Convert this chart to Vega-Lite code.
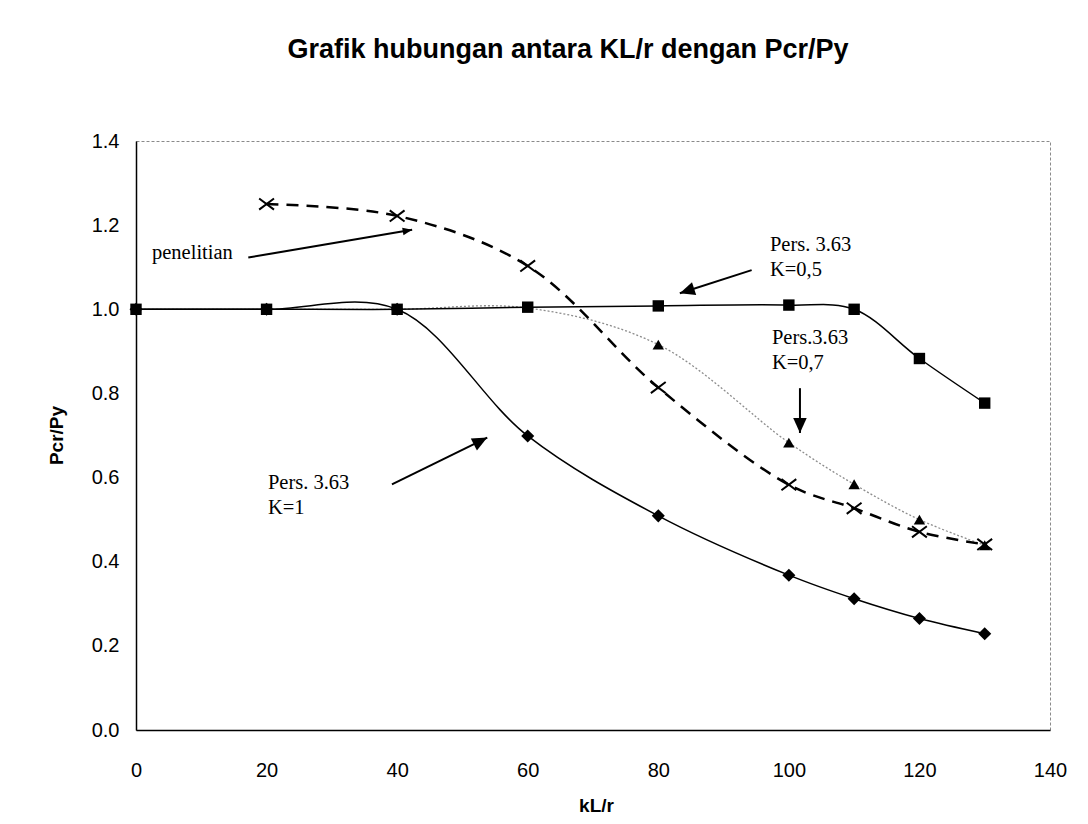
{
  "$schema": "https://vega.github.io/schema/vega-lite/v6.json",
  "autosize": {"type": "none"},
  "width": 914,
  "height": 589,
  "padding": {"left": 136, "top": 141, "right": 38, "bottom": 94},
  "background": "white",
  "title": {
    "text": "Grafik hubungan antara KL/r dengan Pcr/Py",
    "anchor": "middle",
    "frame": "group",
    "dx": -25,
    "offset": 46,
    "baseline": "alphabetic",
    "font": "Liberation Sans",
    "fontSize": 27,
    "fontWeight": "bold",
    "color": "black"
  },
  "config": {
    "view": {"stroke": "#8a8a8a", "strokeDash": [3, 2], "strokeWidth": 1},
    "axis": {
      "labelFont": "Liberation Sans",
      "labelFontSize": 20,
      "labelColor": "black",
      "titleFont": "Liberation Sans",
      "titleFontSize": 19,
      "titleFontWeight": "bold",
      "titleColor": "black",
      "domainColor": "black",
      "domainWidth": 1.5,
      "ticks": false,
      "grid": false,
      "labelFlush": false,
      "labelOverlap": false,
      "labelBound": false
    }
  },
  "datasets": {
    "curves": [
      {"series": "K=0,5", "kLr": 0, "ratio": 1.0},
      {"series": "K=0,5", "kLr": 20, "ratio": 1.0},
      {"series": "K=0,5", "kLr": 40, "ratio": 1.0},
      {"series": "K=0,5", "kLr": 60, "ratio": 1.005},
      {"series": "K=0,5", "kLr": 80, "ratio": 1.008},
      {"series": "K=0,5", "kLr": 100, "ratio": 1.01},
      {"series": "K=0,5", "kLr": 110, "ratio": 1.0},
      {"series": "K=0,5", "kLr": 120, "ratio": 0.883},
      {"series": "K=0,5", "kLr": 130, "ratio": 0.777},
      {"series": "K=1", "kLr": 0, "ratio": 1.0},
      {"series": "K=1", "kLr": 20, "ratio": 1.0},
      {"series": "K=1", "kLr": 40, "ratio": 1.0},
      {"series": "K=1", "kLr": 60, "ratio": 0.699},
      {"series": "K=1", "kLr": 80, "ratio": 0.509},
      {"series": "K=1", "kLr": 100, "ratio": 0.368},
      {"series": "K=1", "kLr": 110, "ratio": 0.312},
      {"series": "K=1", "kLr": 120, "ratio": 0.265},
      {"series": "K=1", "kLr": 130, "ratio": 0.229},
      {"series": "K=0,7", "kLr": 0, "ratio": 1.0},
      {"series": "K=0,7", "kLr": 20, "ratio": 1.0},
      {"series": "K=0,7", "kLr": 40, "ratio": 1.0},
      {"series": "K=0,7", "kLr": 60, "ratio": 1.003},
      {"series": "K=0,7", "kLr": 80, "ratio": 0.916},
      {"series": "K=0,7", "kLr": 100, "ratio": 0.683},
      {"series": "K=0,7", "kLr": 110, "ratio": 0.584},
      {"series": "K=0,7", "kLr": 120, "ratio": 0.5},
      {"series": "K=0,7", "kLr": 130, "ratio": 0.439},
      {"series": "penelitian", "kLr": 20, "ratio": 1.25},
      {"series": "penelitian", "kLr": 40, "ratio": 1.222},
      {"series": "penelitian", "kLr": 60, "ratio": 1.103},
      {"series": "penelitian", "kLr": 80, "ratio": 0.814},
      {"series": "penelitian", "kLr": 100, "ratio": 0.583},
      {"series": "penelitian", "kLr": 110, "ratio": 0.527},
      {"series": "penelitian", "kLr": 120, "ratio": 0.471},
      {"series": "penelitian", "kLr": 130, "ratio": 0.441}
    ],
    "notes": [
      {"id": "pen", "kLr": 2.45, "ratio": 1.12, "label": "penelitian"},
      {"id": "k05", "kLr": 97.1, "ratio": 1.139, "label": "Pers. 3.63\nK=0,5"},
      {"id": "k07", "kLr": 97.4, "ratio": 0.917, "label": "Pers.3.63\nK=0,7"},
      {"id": "k1", "kLr": 20.2, "ratio": 0.574, "label": "Pers. 3.63\nK=1"}
    ],
    "arrows": [
      {"id": "pen", "x1": 17.2, "y1": 1.123, "x2": 42.3, "y2": 1.189},
      {"id": "k05", "x1": 94.3, "y1": 1.093, "x2": 83.3, "y2": 1.038},
      {"id": "k07", "x1": 101.7, "y1": 0.8125, "x2": 101.7, "y2": 0.706},
      {"id": "k1", "x1": 39.2, "y1": 0.584, "x2": 53.8, "y2": 0.695}
    ]
  },
  "encoding": {
    "x": {
      "field": "kLr",
      "type": "quantitative",
      "scale": {"domain": [0, 140], "nice": false, "zero": false},
      "axis": {
        "values": [0, 20, 40, 60, 80, 100, 120, 140],
        "labelPadding": 30,
        "title": "kL/r",
        "titleX": 460,
        "titleY": 75,
        "titleBaseline": "middle",
        "titleAlign": "center"
      }
    },
    "y": {
      "field": "ratio",
      "type": "quantitative",
      "scale": {"domain": [0, 1.4], "nice": false, "zero": false},
      "axis": {
        "values": [0, 0.2, 0.4, 0.6, 0.8, 1.0, 1.2, 1.4],
        "format": ".1f",
        "labelPadding": 17,
        "title": "Pcr/Py",
        "titleX": -80,
        "titleY": 294,
        "titleAngle": -90,
        "titleBaseline": "middle",
        "titleAlign": "center"
      }
    }
  },
  "layer": [
    {
      "data": {"name": "curves"},
      "transform": [{"filter": "datum.series === 'K=0,7'"}],
      "mark": {"type": "line", "interpolate": "catmull-rom", "stroke": "#8c8c8c", "strokeWidth": 1.3, "strokeDash": [2, 2]}
    },
    {
      "data": {"name": "curves"},
      "transform": [{"filter": "datum.series === 'penelitian'"}],
      "mark": {"type": "line", "interpolate": "catmull-rom", "stroke": "black", "strokeWidth": 2.5, "strokeDash": [12, 8]}
    },
    {
      "data": {"name": "curves"},
      "transform": [{"filter": "datum.series === 'K=1'"}],
      "mark": {"type": "line", "interpolate": "catmull-rom", "stroke": "black", "strokeWidth": 1.5}
    },
    {
      "data": {"name": "curves"},
      "transform": [{"filter": "datum.series === 'K=0,5'"}],
      "mark": {"type": "line", "interpolate": "catmull-rom", "stroke": "black", "strokeWidth": 1.5}
    },
    {
      "data": {"name": "curves"},
      "transform": [{"filter": "datum.series === 'K=0,7' && datum.kLr >= 80"}],
      "mark": {"type": "point", "shape": "triangle-up", "filled": true, "fill": "black", "size": 130, "opacity": 1}
    },
    {
      "data": {"name": "curves"},
      "transform": [{"filter": "datum.series === 'penelitian'"}],
      "mark": {"type": "point", "shape": "M-1,-0.75L1,0.75M-1,0.75L1,-0.75", "filled": false, "stroke": "black", "strokeWidth": 2, "size": 220, "opacity": 1}
    },
    {
      "data": {"name": "curves"},
      "transform": [{"filter": "datum.series === 'K=1'"}],
      "mark": {"type": "point", "shape": "diamond", "filled": true, "fill": "black", "size": 170, "opacity": 1}
    },
    {
      "data": {"name": "curves"},
      "transform": [{"filter": "datum.series === 'K=0,5'"}],
      "mark": {"type": "point", "shape": "square", "filled": true, "fill": "black", "size": 130, "opacity": 1}
    },
    {
      "data": {"name": "arrows"},
      "mark": {"type": "rule", "stroke": "black", "strokeWidth": 2},
      "encoding": {
        "x": {"field": "x1", "type": "quantitative"},
        "y": {"field": "y1", "type": "quantitative"},
        "x2": {"field": "x2"},
        "y2": {"field": "y2"}
      }
    },
    {
      "data": {"name": "arrows"},
      "transform": [{"filter": "datum.id === 'pen'"}],
      "mark": {"type": "point", "shape": "M0,0L-0.4,1L0.4,1Z", "filled": true, "fill": "black", "size": 360, "angle": 80, "opacity": 1},
      "encoding": {"x": {"field": "x2", "type": "quantitative"}, "y": {"field": "y2", "type": "quantitative"}}
    },
    {
      "data": {"name": "arrows"},
      "transform": [{"filter": "datum.id === 'k05'"}],
      "mark": {"type": "point", "shape": "M0,0L-0.45,1L0.45,1Z", "filled": true, "fill": "black", "size": 900, "angle": 252, "opacity": 1},
      "encoding": {"x": {"field": "x2", "type": "quantitative"}, "y": {"field": "y2", "type": "quantitative"}}
    },
    {
      "data": {"name": "arrows"},
      "transform": [{"filter": "datum.id === 'k07'"}],
      "mark": {"type": "point", "shape": "M0,0L-0.45,1L0.45,1Z", "filled": true, "fill": "black", "size": 900, "angle": 180, "opacity": 1},
      "encoding": {"x": {"field": "x2", "type": "quantitative"}, "y": {"field": "y2", "type": "quantitative"}}
    },
    {
      "data": {"name": "arrows"},
      "transform": [{"filter": "datum.id === 'k1'"}],
      "mark": {"type": "point", "shape": "M0,0L-0.45,1L0.45,1Z", "filled": true, "fill": "black", "size": 900, "angle": 63, "opacity": 1},
      "encoding": {"x": {"field": "x2", "type": "quantitative"}, "y": {"field": "y2", "type": "quantitative"}}
    },
    {
      "data": {"name": "notes"},
      "mark": {"type": "text", "align": "left", "baseline": "alphabetic", "font": "Liberation Serif", "fontSize": 20.5, "lineBreak": "\n", "lineHeight": 25, "color": "black"},
      "encoding": {"text": {"field": "label", "type": "nominal"}}
    }
  ]
}
